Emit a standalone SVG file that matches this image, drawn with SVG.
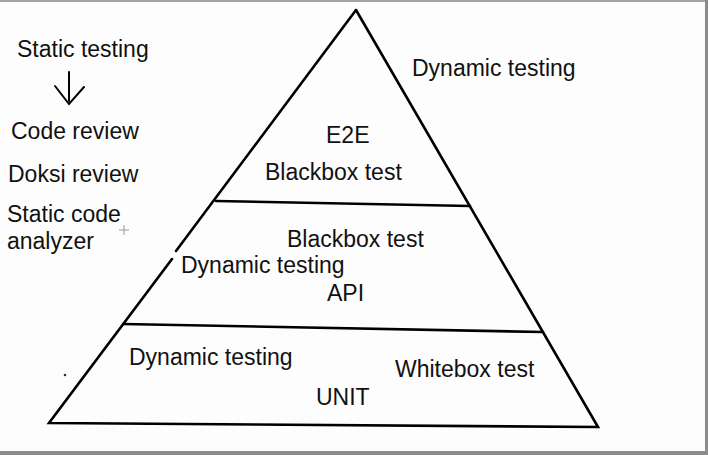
<svg xmlns="http://www.w3.org/2000/svg" width="708" height="455" viewBox="0 0 708 455">
  <defs>
    <style>
      .t { font-family: "Liberation Sans", Arial, sans-serif; font-size: 23px; fill: #111; }
      .edge { fill: none; stroke: #000; stroke-width: 2.6; stroke-linecap: round; stroke-linejoin: miter; }
      .arrow { fill: none; stroke: #000; stroke-width: 2; stroke-linecap: round; stroke-linejoin: miter; }
      .frame { fill: #8c8c8c; }
    </style>
  </defs>
  <rect x="0" y="0" width="708" height="455" fill="#fdfdfd"/>
  <g id="frame">
    <rect class="frame" x="0" y="0" width="708" height="2" fill-opacity="0.8"/>
    <rect class="frame" x="705" y="0" width="3" height="455"/>
    <rect class="frame" x="0" y="451" width="708" height="4"/>
  </g>

  <g id="pyramid">
    <path class="edge" d="M 356 10 L 176 251"/>
    <path class="edge" d="M 172 259 L 49 423 L 598 427 L 356 10"/>
    <path class="edge" d="M 216 201 L 470 206"/>
    <path class="edge" d="M 123 324 L 543 332"/>
  </g>

  <g id="static-testing">
    <text class="t" x="17" y="57">Static testing</text>
  </g>
  <g id="code-review">
    <text class="t" x="11" y="139">Code review</text>
  </g>
  <g id="doksi-review">
    <text class="t" x="8" y="182">Doksi review</text>
  </g>
  <g id="static-code-analyzer">
    <text class="t" x="7" y="222">Static code</text>
    <text class="t" x="7" y="249">analyzer</text>
  </g>
  <g id="dynamic-testing-top">
    <text class="t" x="412" y="76">Dynamic testing</text>
  </g>

  <g id="tier-e2e">
    <text class="t" x="326" y="143">E2E</text>
    <text class="t" x="265" y="180">Blackbox test</text>
  </g>
  <g id="tier-api">
    <text class="t" x="287" y="247">Blackbox test</text>
    <text class="t" x="181" y="273">Dynamic testing</text>
    <text class="t" x="327" y="301">API</text>
  </g>
  <g id="tier-unit">
    <text class="t" x="129" y="365">Dynamic testing</text>
    <text class="t" x="395" y="377">Whitebox test</text>
    <text class="t" x="316" y="405">UNIT</text>
  </g>

  <g id="connectors">
    <path class="arrow" d="M 69 72 L 69 101"/>
    <path class="arrow" d="M 55 86 L 69 104 L 84 87"/>
  </g>

  <g id="marks">
    <path d="M 119 230 L 129 230 M 124 225 L 124 235" stroke="#999" stroke-width="1" fill="none"/>
    <circle cx="65" cy="375" r="1.3" fill="#333"/>
  </g>
</svg>
